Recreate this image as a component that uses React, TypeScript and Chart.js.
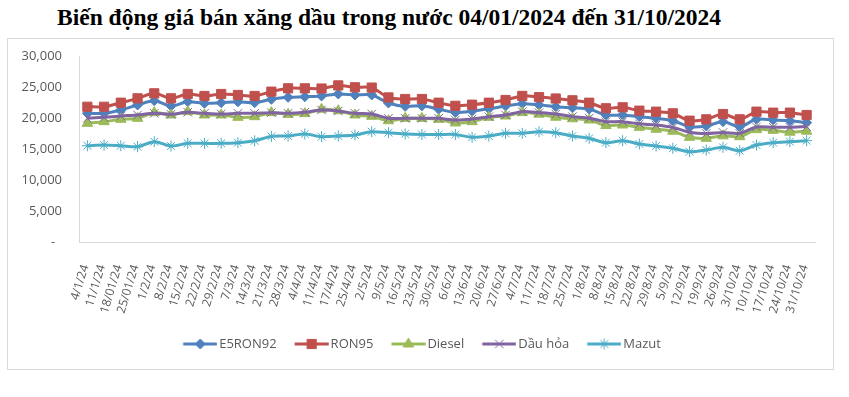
import React, { useEffect, useRef } from 'react';
import { Chart, registerables } from 'chart.js';
import { drawPoint } from 'chart.js/helpers';

Chart.register(...registerables);

const categories = [
  '4/1/24', '11/1/24', '18/01/24', '25/01/24', '1/2/24', '8/2/24', '15/2/24', '22/2/24', '29/2/24',
  '7/3/24', '14/3/24', '21/3/24', '28/3/24', '4/4/24', '11/4/24', '17/4/24', '25/4/24', '2/5/24',
  '9/5/24', '16/5/24', '23/5/24', '30/5/24', '6/6/24', '13/6/24', '20/6/24', '27/6/24', '4/7/24',
  '11/7/24', '18/7/24', '25/7/24', '1/8/24', '8/8/24', '15/8/24', '22/8/24', '29/8/24', '5/9/24',
  '12/9/24', '19/9/24', '26/9/24', '3/10/24', '10/10/24', '17/10/24', '24/10/24', '31/10/24',
];

const e5ron92 = [20830, 20830, 21370, 22180, 22880, 22020, 22720, 22450, 22550, 22700, 22550, 23100, 23420, 23520, 23640, 23960, 23800, 23800, 22500, 21960, 22040, 21510, 20970, 21180, 21560, 22020, 22400, 22200, 21900, 21730, 21530, 20560, 20560, 20290, 20020, 19640, 18670, 18780, 19480, 18670, 19860, 19750, 19640, 19320];
const ron95 = [21900, 21900, 22550, 23260, 24070, 23260, 23960, 23640, 23960, 23800, 23640, 24340, 24880, 24880, 24850, 25350, 25050, 25000, 23400, 23150, 23150, 22550, 22050, 22230, 22550, 22990, 23650, 23450, 23230, 22940, 22550, 21650, 21810, 21260, 21100, 20830, 19640, 19860, 20720, 19860, 21100, 20940, 20940, 20560];
const diesel = [19220, 19480, 19860, 20020, 20940, 20560, 21100, 20560, 20560, 20190, 20290, 20940, 20670, 20780, 21500, 21250, 20560, 20350, 19640, 20020, 20020, 19860, 19270, 19480, 20190, 20400, 20950, 20700, 20200, 19950, 19750, 18860, 18940, 18570, 18250, 17940, 16950, 16790, 17190, 17050, 18190, 18080, 17780, 17940];
const dauHoa = [20020, 20190, 20400, 20560, 20830, 20670, 21000, 20830, 20720, 20830, 20830, 20940, 20830, 21000, 21370, 21210, 20830, 20720, 20020, 20020, 20020, 20020, 19750, 19910, 20290, 20560, 21100, 20940, 20720, 20300, 20050, 19480, 19480, 19130, 18940, 18540, 17780, 17570, 17730, 17600, 18620, 18570, 18570, 18680];
const mazut = [15590, 15700, 15590, 15430, 16240, 15540, 15970, 15970, 15970, 16080, 16380, 17100, 17160, 17490, 17050, 17160, 17320, 17860, 17700, 17490, 17400, 17400, 17400, 16950, 17160, 17600, 17600, 17860, 17700, 17160, 16790, 16080, 16400, 15870, 15540, 15170, 14620, 14890, 15330, 14780, 15700, 16080, 16240, 16400];

const seriesNames = ['E5RON92', 'RON95', 'Diesel', 'Dầu hỏa', 'Mazut'];
const seriesColors = ['#4F81BD', '#C0504D', '#9BBB59', '#8064A2', '#4BACC6'];
const seriesMarkers = ['rectRot', 'rect', 'triangle', 'crossRot', 'star'];
const markerRadius = [5, 6.5, 6, 6, 5.5];

const yMin = 0;
const yMax = 30000;
const yStep = 5000;

const TITLE = 'Biến động giá bán xăng dầu trong nước 04/01/2024 đến 31/10/2024';
const FONT = 'Open Sans';
const TEXT_COLOR = '#595959';

function makeIcon(i: number): HTMLCanvasElement {
  const c = document.createElement('canvas');
  c.width = 47;
  c.height = 14;
  const ctx = c.getContext('2d')!;
  ctx.strokeStyle = seriesColors[i];
  ctx.lineWidth = 3;
  ctx.beginPath();
  ctx.moveTo(12.75, 7);
  ctx.lineTo(46.75, 7);
  ctx.stroke();
  ctx.fillStyle = seriesColors[i];
  ctx.strokeStyle = seriesColors[i];
  ctx.lineWidth = 1;
  drawPoint(ctx, { pointStyle: seriesMarkers[i] as any, rotation: 0, radius: markerRadius[i], borderWidth: 1 } as any, 29.75, 7);
  return c;
}

export default function App() {
  const ref = useRef<HTMLCanvasElement>(null);

  useEffect(() => {
    const canvas = ref.current;
    if (!canvas) return;
    const allData = [e5ron92, ron95, diesel, dauHoa, mazut];
    const icons = seriesNames.map((_, i) => makeIcon(i));
    const datasets = seriesNames.map((name, i) => ({
      label: name,
      data: allData[i],
      borderColor: seriesColors[i],
      backgroundColor: seriesColors[i],
      borderWidth: 3,
      tension: 0.3,
      pointStyle: seriesMarkers[i] as any,
      pointRadius: markerRadius[i],
      pointBorderWidth: 1,
      pointBackgroundColor: seriesColors[i],
      pointBorderColor: seriesColors[i],
      order: seriesNames.length - 1 - i,
    }));

    const chart = new Chart(canvas, {
      type: 'line',
      data: { labels: categories, datasets },
      options: {
        responsive: false,
        animation: false,
        devicePixelRatio: 1,
        layout: { padding: { left: 13, right: 18, top: 17.7, bottom: 8.5 } },
        plugins: {
          title: { display: false },
          tooltip: { enabled: false },
          legend: {
            position: 'bottom',
            labels: {
              usePointStyle: true,
              pointStyleWidth: 37.5,
              boxHeight: 13,
              padding: 10,
              color: TEXT_COLOR,
              font: { family: FONT, size: 13 },
              generateLabels: () =>
                seriesNames.map((name, i) => ({
                  text: name,
                  fillStyle: seriesColors[i],
                  strokeStyle: seriesColors[i],
                  lineWidth: 0,
                  pointStyle: icons[i] as any,
                  datasetIndex: i,
                  hidden: false,
                  fontColor: TEXT_COLOR,
                })),
            },
          },
        },
        scales: {
          x: {
            type: 'category',
            offset: true,
            grid: { display: false, drawTicks: false },
            border: { display: true, color: '#D9D9D9', width: 1 },
            ticks: {
              autoSkip: false,
              minRotation: 73,
              maxRotation: 73,
              padding: 21,
              labelOffset: -2,
              color: TEXT_COLOR,
              font: { family: FONT, size: 12 },
            },
            afterFit: (scale: any) => {
              scale.height = 85.5;
              scale.paddingRight = 0;
            },
          },
          y: {
            min: yMin,
            max: yMax,
            grid: { display: false, drawTicks: false },
            border: { display: true, color: '#D9D9D9', width: 1 },
            ticks: {
              stepSize: yStep,
              padding: 17,
              color: TEXT_COLOR,
              font: { family: FONT, size: 13 },
              callback: (v: any) => (Number(v) === 0 ? '-  ' : Number(v).toLocaleString('en-US')),
            },
            afterFit: (scale: any) => {
              scale.width = 58;
              scale.paddingTop = 0;
              scale.paddingBottom = 0;
            },
          },
        },
      },
    });
    return () => chart.destroy();
  }, []);

  return (
    <div style={{ position: 'absolute', left: 0, top: 0, width: 849, height: 397, background: '#fff' }}>
      <div
        style={{
          position: 'absolute',
          left: 0,
          top: 4,
          width: 778,
          textAlign: 'center',
          fontFamily: '"Liberation Serif", "Times New Roman", serif',
          fontWeight: 'bold',
          fontSize: 23.5,
          lineHeight: '27px',
          color: '#000',
          whiteSpace: 'nowrap',
        }}
      >
        {TITLE}
      </div>
      <div
        style={{
          position: 'absolute',
          left: 7,
          top: 38,
          width: 827,
          height: 332,
          boxSizing: 'border-box',
          border: '1px solid #D9D9D9',
          background: '#fff',
        }}
      >
        <canvas ref={ref} width={825} height={330} style={{ display: 'block', width: 825, height: 330 }} />
      </div>
    </div>
  );
}
